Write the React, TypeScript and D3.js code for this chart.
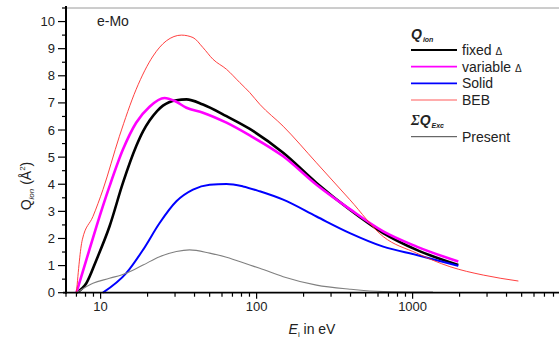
import React, { useRef, useEffect } from "react";
import * as d3 from "d3";

// energies (eV) and cross sections (Å²)
const FIXED_E = [7, 8.1, 9.4, 11.4, 13.9, 16.9, 18.7, 20.6, 23, 25.1, 30.6, 35.5, 45.3, 64.1, 90.4, 148, 242, 396, 648, 1061, 1963];
const FIXED_Q = [0, 0.35, 1.21, 2.44, 4.05, 5.4, 5.95, 6.35, 6.7, 6.9, 7.1, 7.13, 6.94, 6.51, 6.04, 5.16, 4.05, 3.06, 2.2, 1.58, 1.02];

const VAR_E = [7, 8.1, 9.4, 11.4, 13.9, 16.9, 20.6, 25.7, 29.9, 35.5, 45.3, 64.1, 90.4, 148, 242, 396, 648, 1061, 1963];
const VAR_Q = [0, 1.21, 2.44, 3.92, 5.28, 6.27, 6.86, 7.18, 7.07, 6.82, 6.64, 6.27, 5.8, 5.03, 3.98, 3.08, 2.26, 1.7, 1.15];

const SOLID_E = [10.35, 14.6, 18.7, 23.9, 30.6, 39.1, 50, 64.1, 81.8, 104.7, 148, 242, 396, 648, 1061, 1963];
const SOLID_Q = [0, 0.72, 1.58, 2.57, 3.37, 3.8, 3.98, 4.01, 3.92, 3.74, 3.43, 2.81, 2.2, 1.7, 1.39, 0.99];

const BEB_E = [7, 7.63, 8.93, 10.35, 13.2, 16.9, 21.7, 26.4, 33, 39.1, 45.3, 52.5, 64.1, 78, 90.4, 104.7, 148, 242, 396, 648, 1061, 1734, 2838, 4764];
const BEB_Q = [0, 1.95, 2.81, 3.8, 5.77, 7.5, 8.73, 9.29, 9.5, 9.41, 9.04, 8.61, 8.24, 7.75, 7.38, 6.95, 6.14, 4.79, 3.43, 2.07, 1.46, 0.96, 0.65, 0.43];

const EXC_E = [7, 8.93, 11.4, 14.6, 18.7, 23.9, 30.6, 37.2, 50, 64.1, 90.4, 104.7, 148, 242, 396, 648, 1350];
const EXC_Q = [0, 0.35, 0.53, 0.72, 1.02, 1.33, 1.52, 1.58, 1.46, 1.31, 1.02, 0.9, 0.59, 0.28, 0.13, 0.04, 0.02];

const Y_TICKS = [0, 1, 2, 3, 4, 5, 6, 7, 8, 9, 10];
const X_LABELS = [10, 100, 1000];

const SERIES = [
  { name: "fixed", e: FIXED_E, q: FIXED_Q, color: "#000000", width: 2.6 },
  { name: "variable", e: VAR_E, q: VAR_Q, color: "#ff00ff", width: 2.6 },
  { name: "Solid", e: SOLID_E, q: SOLID_Q, color: "#0000ff", width: 2 },
  { name: "BEB", e: BEB_E, q: BEB_Q, color: "#ff2a2a", width: 0.9 },
  { name: "Present", e: EXC_E, q: EXC_Q, color: "#808080", width: 1.1 },
];

const FONT = "'Liberation Sans', Arial, sans-serif";

export default function App() {
  const svgRef = useRef<SVGSVGElement | null>(null);

  useEffect(() => {
    if (!svgRef.current) return;
    const svg = d3.select(svgRef.current);
    svg.selectAll("*").remove();

    const left = 66, right = 558, top = 8, bottom = 292.7;
    const x = d3.scaleLog().domain([6, 8550]).range([left, right]);
    const y = d3.scaleLinear().domain([0, 10.5]).range([bottom, top]);

    // frame top
    svg.append("line").attr("x1", left).attr("x2", 559).attr("y1", top).attr("y2", top)
      .attr("stroke", "#9a9a9a").attr("stroke-width", 1);

    // curves
    const line = d3.line<[number, number]>()
      .x((d) => x(d[0]))
      .y((d) => y(d[1]))
      .curve(d3.curveMonotoneX);
    SERIES.forEach((s) => {
      const pts = s.e.map((e, i) => [e, s.q[i]] as [number, number]);
      svg.append("path").attr("d", line(pts)!).attr("fill", "none")
        .attr("stroke", s.color).attr("stroke-width", s.width).attr("stroke-linejoin", "round");
    });

    // y axis
    svg.append("line").attr("x1", left).attr("x2", left).attr("y1", top - 2).attr("y2", bottom + 1)
      .attr("stroke", "#000").attr("stroke-width", 2);
    d3.range(0, 10.51, 0.5).forEach((v) => {
      const major = Number.isInteger(v);
      svg.append("line").attr("x1", left - (major ? 8 : 4)).attr("x2", left)
        .attr("y1", y(v)).attr("y2", y(v)).attr("stroke", "#000").attr("stroke-width", 1.2);
    });
    svg.append("g").selectAll("text").data(Y_TICKS).join("text")
      .attr("x", left - 11).attr("y", (d) => y(d) + 4.5)
      .attr("text-anchor", "end").attr("font-family", FONT).attr("font-size", 13)
      .attr("fill", "#222").text((d) => d);

    // x axis
    svg.append("line").attr("x1", left - 3).attr("x2", 559).attr("y1", bottom).attr("y2", bottom)
      .attr("stroke", "#000").attr("stroke-width", 1.8);
    const minors: number[] = [];
    [1, 10, 100, 1000].forEach((d) => {
      for (let k = 1; k <= 9; k++) {
        const v = k * d;
        if (v >= 6 && v <= 8550) minors.push(v);
      }
    });
    minors.forEach((v) => {
      const major = X_LABELS.includes(v);
      svg.append("line").attr("x1", x(v)).attr("x2", x(v)).attr("y1", bottom)
        .attr("y2", bottom + (major ? 6 : 4)).attr("stroke", "#000").attr("stroke-width", 1.2);
    });
    svg.append("g").selectAll("text").data(X_LABELS).join("text")
      .attr("x", (d) => x(d)).attr("y", bottom + 18)
      .attr("text-anchor", "middle").attr("font-family", FONT).attr("font-size", 13)
      .attr("fill", "#222").text((d) => d);

    // axis titles
    const xt = svg.append("text").attr("x", 312).attr("y", 334).attr("text-anchor", "middle")
      .attr("font-family", FONT).attr("font-size", 14).attr("fill", "#222");
    xt.append("tspan").attr("font-style", "italic").text("E");
    xt.append("tspan").attr("font-size", 8).attr("dy", 3).text("i");
    xt.append("tspan").attr("dy", -3).text(" in eV");

    const yt = svg.append("text").attr("transform", "translate(31,186) rotate(-90)")
      .attr("text-anchor", "middle").attr("font-family", FONT).attr("font-size", 14).attr("fill", "#222");
    yt.append("tspan").text("Q");
    yt.append("tspan").attr("font-size", 8).attr("font-style", "italic").attr("dy", 3).text("ion");
    yt.append("tspan").attr("dy", -3).text(" (Å");
    yt.append("tspan").attr("font-size", 8).attr("dy", -6).text("2");
    yt.append("tspan").attr("dy", 6).text(")");

    svg.append("text").attr("x", 97).attr("y", 26).attr("font-family", FONT).attr("font-size", 14)
      .attr("fill", "#222").text("e-Mo");

    // legend
    const lg = svg.append("g").attr("font-family", FONT).attr("fill", "#222");
    const h1 = lg.append("text").attr("x", 411).attr("y", 39).attr("font-size", 14);
    h1.append("tspan").attr("font-weight", "bold").attr("font-style", "italic").text("Q");
    h1.append("tspan").attr("font-size", 7).attr("font-weight", "bold").attr("font-style", "italic").attr("dy", 3).attr("dx", 1).text("ion");

    const legendRows = [
      { s: SERIES[0], label: "fixed Δ", yy: 50 },
      { s: SERIES[1], label: "variable Δ", yy: 66.7 },
      { s: SERIES[2], label: "Solid", yy: 83.3 },
      { s: SERIES[3], label: "BEB", yy: 100 },
      { s: SERIES[4], label: "Present", yy: 136.7 },
    ];
    legendRows.forEach((r) => {
      const lw = r.s.name === "BEB" ? 1.3 : r.s.name === "Present" ? 1 : 1.8;
      const col = r.s.name === "BEB" ? "#ff9090" : r.s.name === "Present" ? "#444" : r.s.color;
      lg.append("line").attr("x1", 411).attr("x2", 457).attr("y1", r.yy).attr("y2", r.yy)
        .attr("stroke", col).attr("stroke-width", lw);
      const t = lg.append("text").attr("x", 462).attr("y", r.yy + 5).attr("font-size", 14);
      if (r.label.endsWith("Δ")) {
        t.append("tspan").text(r.label.slice(0, -1));
        t.append("tspan").attr("font-size", 10).text("Δ");
      } else {
        t.text(r.label);
      }
    });

    const h2 = lg.append("text").attr("x", 411).attr("y", 125).attr("font-size", 14);
    h2.append("tspan").attr("font-style", "italic").attr("font-weight", "bold").attr("font-family", "'Liberation Serif', serif").text("Σ");
    h2.append("tspan").attr("font-style", "italic").attr("font-weight", "bold").text("Q");
    h2.append("tspan").attr("font-size", 7).attr("font-style", "italic").attr("font-weight", "bold").attr("dy", 3).attr("dx", 1).text("Exc");
  }, []);

  return (
    <svg ref={svgRef} width={559} height={341}
      style={{ position: "absolute", left: 0, top: 0, background: "#fff" }} />
  );
}
